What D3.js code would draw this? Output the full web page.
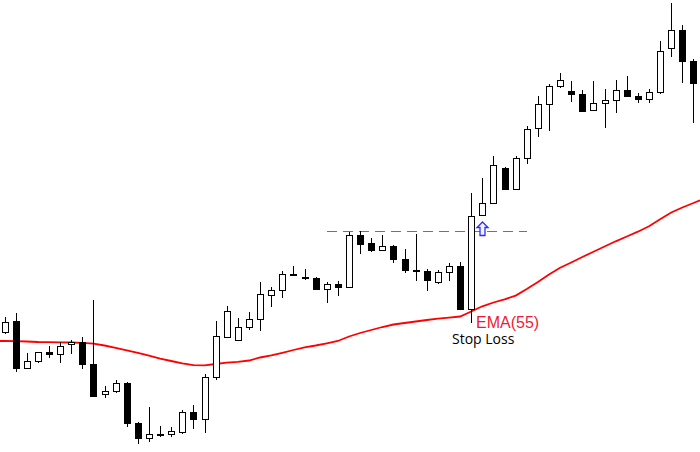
<!DOCTYPE html>
<html>
<head>
<meta charset="utf-8">
<script src="https://cdn.jsdelivr.net/npm/d3@7"></script>
<style>
  html, body { margin: 0; padding: 0; background: #fff; }
  svg { display: block; }
</style>
</head>
<body>
<svg></svg>
<script>
// price data, one entry per candle
let opens = [
  1.2120, 1.2131, 1.2084, 1.2091, 1.2100, 1.2098, 1.2108, 1.2110, 1.2088, 1.2058,
  1.2061, 1.2069, 1.2029, 1.2014, 1.2018, 1.2018, 1.2020, 1.2040, 1.2033, 1.2075,
  1.2115, 1.2112, 1.2125, 1.2133, 1.2157, 1.2162, 1.2178, 1.2175, 1.2174, 1.2163,
  1.2168, 1.2165, 1.2217, 1.2209, 1.2202, 1.2206, 1.2193, 1.2182, 1.2181, 1.2170,
  1.2180, 1.2186, 1.2143, 1.2237, 1.2249, 1.2284, 1.2263, 1.2294, 1.2324, 1.2348,
  1.2366, 1.2361, 1.2358, 1.2342, 1.2349, 1.2352, 1.2362, 1.2356, 1.2353, 1.2360,
  1.2404, 1.2422, 1.2391
];
let highs = [
  1.2135, 1.2139, 1.2099, 1.2100, 1.2106, 1.2110, 1.2112, 1.2115, 1.2152, 1.2066,
  1.2072, 1.2070, 1.2030, 1.2045, 1.2026, 1.2025, 1.2042, 1.2047, 1.2078, 1.2131,
  1.2146, 1.2134, 1.2140, 1.2170, 1.2165, 1.2181, 1.2186, 1.2183, 1.2175, 1.2170,
  1.2171, 1.2220, 1.2221, 1.2214, 1.2217, 1.2207, 1.2203, 1.2218, 1.2183, 1.2182,
  1.2189, 1.2190, 1.2259, 1.2274, 1.2296, 1.2285, 1.2296, 1.2326, 1.2356, 1.2368,
  1.2379, 1.2371, 1.2362, 1.2371, 1.2363, 1.2372, 1.2376, 1.2359, 1.2363, 1.2411,
  1.2449, 1.2427, 1.2393
];
let lows = [
  1.2118, 1.2080, 1.2083, 1.2089, 1.2094, 1.2089, 1.2098, 1.2083, 1.2056, 1.2054,
  1.2059, 1.2025, 1.2008, 1.2010, 1.2015, 1.2015, 1.2018, 1.2023, 1.2019, 1.2072,
  1.2114, 1.2112, 1.2122, 1.2121, 1.2145, 1.2154, 1.2177, 1.2172, 1.2162, 1.2149,
  1.2156, 1.2165, 1.2198, 1.2200, 1.2202, 1.2189, 1.2179, 1.2171, 1.2161, 1.2168,
  1.2171, 1.2142, 1.2129, 1.2237, 1.2249, 1.2262, 1.2263, 1.2288, 1.2315, 1.2321,
  1.2364, 1.2350, 1.2340, 1.2342, 1.2324, 1.2339, 1.2356, 1.2349, 1.2349, 1.2358,
  1.2395, 1.2369, 1.2329
];
let closes = [
  1.2130, 1.2084, 1.2091, 1.2100, 1.2098, 1.2106, 1.2110, 1.2088, 1.2056, 1.2061,
  1.2069, 1.2029, 1.2014, 1.2018, 1.2018, 1.2021, 1.2040, 1.2033, 1.2075, 1.2116,
  1.2141, 1.2125, 1.2133, 1.2158, 1.2162, 1.2178, 1.2178, 1.2175, 1.2163, 1.2168,
  1.2165, 1.2217, 1.2208, 1.2202, 1.2206, 1.2193, 1.2182, 1.2182, 1.2172, 1.2180,
  1.2186, 1.2143, 1.2236, 1.2249, 1.2287, 1.2263, 1.2294, 1.2323, 1.2348, 1.2366,
  1.2372, 1.2358, 1.2341, 1.2349, 1.2352, 1.2362, 1.2356, 1.2353, 1.2360, 1.2401,
  1.2422, 1.2391, 1.2369
];
let ema55 = [
  1.21110, 1.21108, 1.21105, 1.21100, 1.21099, 1.21097, 1.21095, 1.21092, 1.21083, 1.21065,
  1.21042, 1.21017, 1.20992, 1.20963, 1.20933, 1.20910, 1.20886, 1.20869, 1.20867, 1.20880,
  1.20893, 1.20902, 1.20915, 1.20945, 1.20966, 1.20992, 1.21020, 1.21047, 1.21065, 1.21087,
  1.21110, 1.21155, 1.21190, 1.21220, 1.21250, 1.21275, 1.21290, 1.21305, 1.21320, 1.21333,
  1.21343, 1.21355, 1.21405, 1.21457, 1.21495, 1.21527, 1.21564, 1.21630, 1.21700, 1.21775,
  1.21842, 1.21895, 1.21950, 1.22002, 1.22055, 1.22107, 1.22155, 1.22203, 1.22257, 1.22327,
  1.22395, 1.22445, 1.22490
];

// breakout level, breakout candle and the arrow candle after it
let resistanceLevel = 1.2221;
let levelFrom = 29;
let levelTo = 47;
let breakoutBar = 42;
let arrowBar = 43;

let width = 700;
let height = 452;

let candles = opens.map(function (o, i) {
    return { i: i, open: o, high: highs[i], low: lows[i], close: closes[i] };
});

let svg = d3.select('svg')
    .attr('width', width)
    .attr('height', height);

let xScale = d3.scaleBand()
    .domain(d3.range(candles.length))
    .range([-1, width - 1]);

let yScale = d3.scaleLinear()
    .domain([1.2000, 1.2452])
    .range([height, 0]);

let cx = (i) => Math.round(xScale(i) + xScale.bandwidth() / 2);

// dashed resistance line
svg.append('line')
    .attr('x1', xScale(levelFrom) + xScale.bandwidth() / 2)
    .attr('x2', xScale(levelTo) + xScale.bandwidth() / 2)
    .attr('y1', Math.round(yScale(resistanceLevel)) + 0.5)
    .attr('y2', Math.round(yScale(resistanceLevel)) + 0.5)
    .attr('stroke', '#3a9a3a')
    .attr('stroke-width', 1)
    .attr('shape-rendering', 'crispEdges')
    .attr('stroke-dasharray', '10,6');

// EMA line, stretched out to both edges
let pts = ema55.map((v, i) => [xScale(i) + xScale.bandwidth() / 2, yScale(v)]);
let n = pts.length;
let slope = (pts[n - 1][1] - pts[n - 2][1]) / (pts[n - 1][0] - pts[n - 2][0]);
pts.unshift([0, pts[0][1]]);
pts.push([width, pts[n][1] + slope * (width - pts[n][0])]);

svg.append('path')
    .attr('d', d3.line()(pts))
    .attr('fill', 'none')
    .attr('stroke', '#ff0000')
    .attr('stroke-width', 1.8);

let bars = svg.selectAll('g.candle')
    .data(candles)
    .enter()
    .append('g')
    .attr('class', 'candle')
    .attr('shape-rendering', 'crispEdges');

bars.append('line')
    .attr('x1', (d) => cx(d.i) + 0.5)
    .attr('x2', (d) => cx(d.i) + 0.5)
    .attr('y1', (d) => Math.round(yScale(d.high)))
    .attr('y2', (d) => Math.round(yScale(d.low)))
    .attr('stroke', '#000');

bars.append('rect')
    .attr('x', (d) => cx(d.i) - 3 + 0.5)
    .attr('y', (d) => Math.round(yScale(Math.max(d.open, d.close))) + 0.5)
    .attr('width', 6)
    .attr('height', (d) => Math.max(1, Math.round(Math.abs(yScale(d.open) - yScale(d.close)))))
    .attr('fill', (d) => d.close < d.open ? '#000' : '#fff')
    .attr('stroke', '#000');

// buy signal arrow under the candle after the breakout
let ax = cx(arrowBar) + 0.5;
let ay = yScale(lows[arrowBar]) + 7;
svg.append('path')
    .attr('d', `M${ax},${ay} l5.5,5.5 h-3 v8 h-5 v-8 h-3 z`)
    .attr('fill', '#f4f4ff')
    .attr('stroke', '#2b2bff')
    .attr('stroke-width', 1.3);

let labelY = yScale(lows[breakoutBar]);

svg.append('text')
    .attr('x', cx(breakoutBar) + 5)
    .attr('y', labelY + 5)
    .style('font-family', 'Liberation Sans, Arial, sans-serif')
    .style('font-size', '16px')
    .style('fill', '#ee1a3a')
    .text('EMA(55)');

svg.append('text')
    .attr('x', cx(breakoutBar) - 19)
    .attr('y', labelY + 21)
    .style('font-family', 'Open Sans, sans-serif')
    .style('font-size', '14px')
    .style('fill', '#000')
    .text('Stop Loss');
</script>
</body>
</html>
